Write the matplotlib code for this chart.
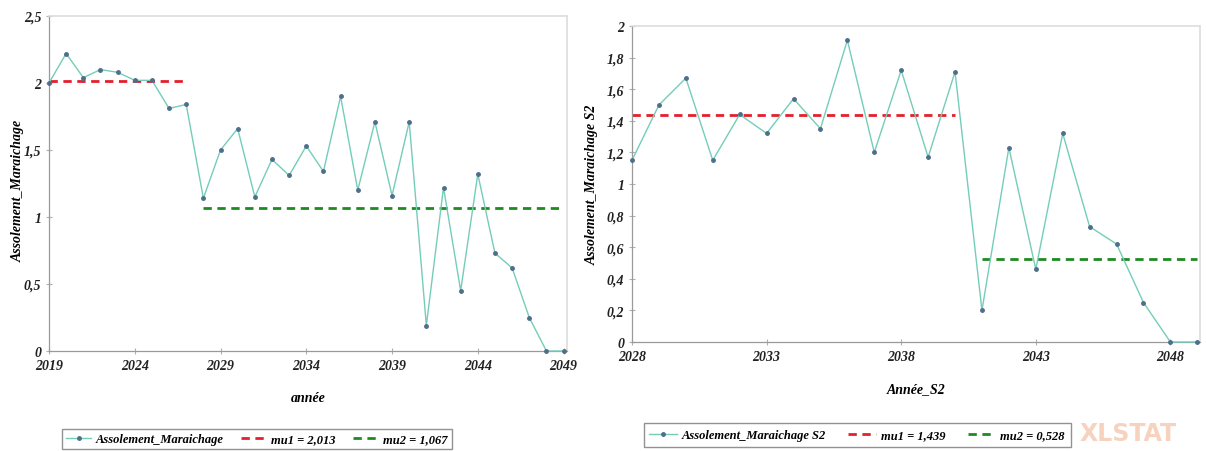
import matplotlib
matplotlib.use("Agg")
import matplotlib.pyplot as plt

years1 = list(range(2019, 2050))
values1 = [2.00, 2.22, 2.04, 2.10, 2.08, 2.02, 2.02, 1.81, 1.84, 1.14,
           1.50, 1.66, 1.15, 1.43, 1.31, 1.53, 1.34, 1.90, 1.20, 1.71,
           1.16, 1.71, 0.19, 1.22, 0.45, 1.32, 0.73, 0.62, 0.25, 0.00, 0.00]
mu1_left, mu1_left_span = 2.013, (2019, 2027)
mu2_left, mu2_left_span = 1.067, (2028, 2049)

years2 = list(range(2028, 2050))
values2 = [1.15, 1.50, 1.67, 1.15, 1.44, 1.32, 1.54, 1.35, 1.91, 1.20,
           1.72, 1.17, 1.71, 0.20, 1.23, 0.46, 1.32, 0.73, 0.62, 0.25,
           0.00, 0.00]
mu1_right, mu1_right_span = 1.439, (2028, 2040)
mu2_right, mu2_right_span = 0.528, (2041, 2049)

xticks1 = [2019, 2024, 2029, 2034, 2039, 2044, 2049]
yticks1 = [0, 0.5, 1, 1.5, 2, 2.5]
xticks2 = [2028, 2033, 2038, 2043, 2048]
yticks2 = [0, 0.2, 0.4, 0.6, 0.8, 1, 1.2, 1.4, 1.6, 1.8, 2]

FONT = "Liberation Serif"
LINE_C = "#74cdb9"
MARK_C = "#4f6e8a"
RED = "#e3202b"
GREEN = "#1f8a22"

def fmt(v):
    s = ("%g" % v).replace(".", ",")
    return s

fig = plt.figure(figsize=(12.06, 4.52), dpi=100)

def style(ax, xt, yt, xlim, ylim):
    ax.set_xlim(*xlim)
    ax.set_ylim(*ylim)
    ax.set_xticks(xt)
    ax.set_yticks(yt)
    ax.set_xticklabels([str(x) for x in xt], fontfamily=FONT, fontweight="bold",
                       fontstyle="italic", fontsize=10)
    ax.set_yticklabels([fmt(y) for y in yt], fontfamily=FONT, fontweight="bold",
                       fontstyle="italic", fontsize=10)
    ax.tick_params(direction="inout", length=5, width=0.8, color="#b0b0b0",
                   labelcolor="#222222", pad=3)
    for s in ["top", "right"]:
        ax.spines[s].set_color("#dddddd")
        ax.spines[s].set_linewidth(1.2)
    for s in ["left", "bottom"]:
        ax.spines[s].set_color("#9a9a9a")
        ax.spines[s].set_linewidth(0.9)

legprop = {"family": FONT, "weight": "bold", "style": "italic", "size": 9}

# Left chart
ax1 = fig.add_axes([49/1206, 100/452, 518/1206, 335/452])
l1, = ax1.plot(years1, values1, color=LINE_C, lw=1.0, marker="o", ms=2.5,
               mfc=MARK_C, mec=MARK_C, clip_on=False, zorder=3)
r1, = ax1.plot(mu1_left_span, [mu1_left]*2, color=RED, lw=2.0, ls=(0, (3, 2)), zorder=2)
g1, = ax1.plot(mu2_left_span, [mu2_left]*2, color=GREEN, lw=2.0, ls=(0, (3, 2)), zorder=2)
style(ax1, xticks1, yticks1, (2019, 2049.2), (0, 2.5))
ax1.set_xlabel("année", fontfamily=FONT, fontweight="bold", fontstyle="italic",
               fontsize=10, labelpad=14)
ax1.set_ylabel("Assolement_Maraichage", fontfamily=FONT, fontweight="bold",
               fontstyle="italic", fontsize=10)
ax1.yaxis.set_label_coords(-0.046, 0.48)
leg1 = fig.legend([l1, r1, g1],
                  ["Assolement_Maraichage", "mu1 = " + fmt(mu1_left), "mu2 = " + fmt(mu2_left)],
                  loc="center", bbox_to_anchor=(257/1206, 1 - 440/452), ncol=3,
                  prop=legprop, frameon=True, fancybox=False, edgecolor="#777777",
                  handlelength=2.0, handletextpad=0.4, columnspacing=1.4, borderpad=0.35)
leg1.get_frame().set_linewidth(1.0)

# Right chart
ax2 = fig.add_axes([632/1206, 109/452, 568/1206, 316/452])
l2, = ax2.plot(years2, values2, color=LINE_C, lw=1.0, marker="o", ms=2.5,
               mfc=MARK_C, mec=MARK_C, clip_on=False, zorder=3)
r2, = ax2.plot(mu1_right_span, [mu1_right]*2, color=RED, lw=2.0, ls=(0, (3, 2)), zorder=2)
g2, = ax2.plot(mu2_right_span, [mu2_right]*2, color=GREEN, lw=2.0, ls=(0, (3, 2)), zorder=2)
style(ax2, xticks2, yticks2, (2028, 2049.1), (0, 2))
ax2.set_xlabel("Année_S2", fontfamily=FONT, fontweight="bold", fontstyle="italic",
               fontsize=10, labelpad=14)
ax2.set_ylabel("Assolement_Maraichage S2", fontfamily=FONT, fontweight="bold",
               fontstyle="italic", fontsize=10, labelpad=6)
leg2 = fig.legend([l2, r2, g2],
                  ["Assolement_Maraichage S2", "mu1 = " + fmt(mu1_right), "mu2 = " + fmt(mu2_right)],
                  loc="center", bbox_to_anchor=(857/1206, 1 - 436/452), ncol=3,
                  prop=legprop, frameon=True, fancybox=False, edgecolor="#777777",
                  handlelength=2.2, handletextpad=0.4, columnspacing=1.8, borderpad=0.45)
leg2.get_frame().set_linewidth(1.0)

fig.text(1080/1206, 1 - 434/452, "XLSTAT", color="#f6d2bf", fontsize=17,
         fontweight="bold", fontfamily="DejaVu Sans", va="center", ha="left", zorder=0)

fig.savefig("out.png", dpi=100)
